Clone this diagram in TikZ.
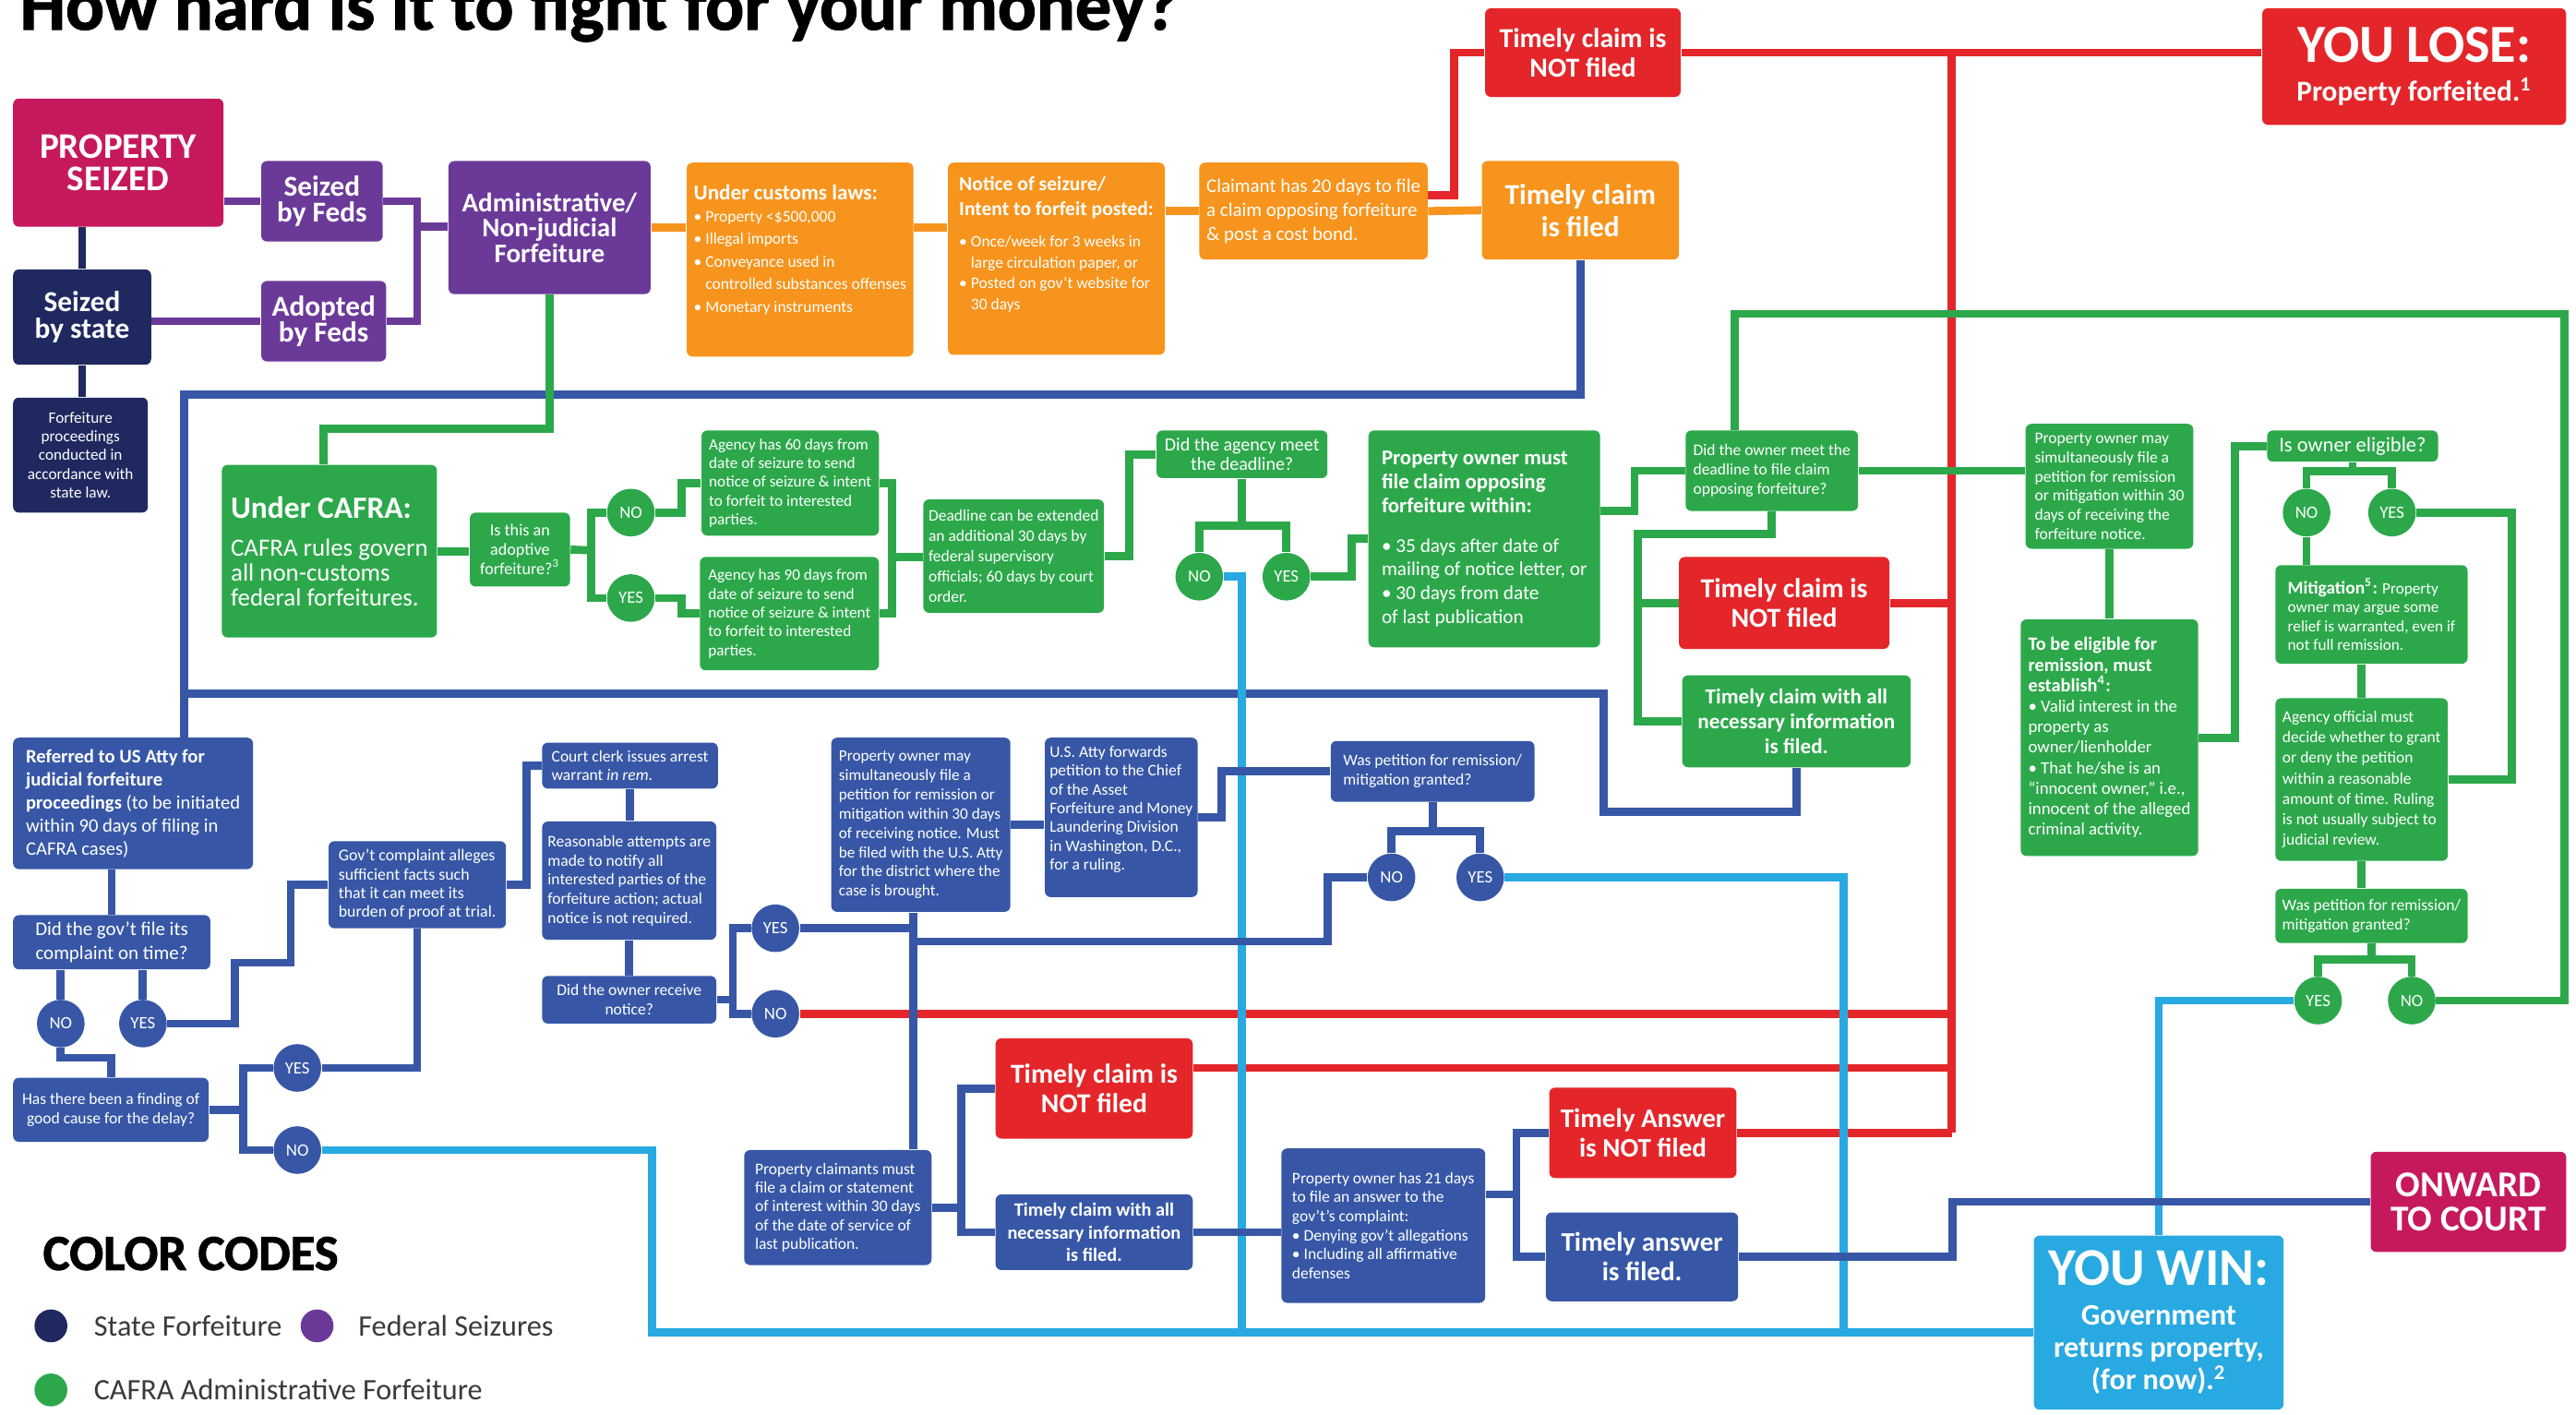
\documentclass[tikz,border=0pt]{standalone}
\usepackage{fontspec}
\setmainfont{Carlito}
\usepackage{xcolor}
\usepackage{tikz}
\definecolor{seizedpink}{HTML}{C6195D}
\definecolor{statenavy}{HTML}{1F2960}
\definecolor{fedpurple}{HTML}{6B3A99}
\definecolor{customsorange}{HTML}{F7941D}
\definecolor{losered}{HTML}{E4262A}
\definecolor{cafragreen}{HTML}{2CA84B}
\definecolor{judicialblue}{HTML}{3757A6}
\definecolor{winblue}{HTML}{28A9E1}
\definecolor{keygray}{HTML}{3A3A3A}
\tikzset{
  flowbox/.style={rectangle, rounded corners=2pt, inner sep=0pt, text=white},
  wh/.style 2 args={minimum width=#1*0.02cm, minimum height=#2*0.02cm},
  navybox/.style={flowbox, fill=statenavy},
  purplebox/.style={flowbox, fill=fedpurple},
  pinkbox/.style={flowbox, fill=seizedpink},
  orangebox/.style={flowbox, fill=customsorange},
  redbox/.style={flowbox, fill=losered},
  greenbox/.style={flowbox, fill=cafragreen},
  bluebox/.style={flowbox, fill=judicialblue},
  winbox/.style={flowbox, fill=winblue},
  yn/.style={circle, inner sep=0pt, minimum size=0.58cm, text=white, font=\fontsize{6}{6}\selectfont},
  smallnote/.style={font=\fontsize{5.6}{6.6}\selectfont},
  claimhead/.style={font=\bfseries\fontsize{9.5}{10.2}\selectfont, align=center},
  fedhead/.style={font=\bfseries\fontsize{10}{9.2}\selectfont, align=center},
  heavy/.style={font=\bfseries\addfontfeatures{FakeBold=1.6}\fontsize{#1}{#1}\selectfont},
  keydot/.style={circle, inner sep=0pt, minimum size=0.4cm},
  keytext/.style={anchor=west, text=keygray, font=\fontsize{10.3}{10.3}\selectfont},
  conn/.style={line width=2.8pt},
  navyline/.style={conn, draw=statenavy},
  purpleline/.style={conn, draw=fedpurple},
  orangeline/.style={conn, draw=customsorange},
  redline/.style={conn, draw=losered},
  greenline/.style={conn, draw=cafragreen},
  blueline/.style={conn, draw=judicialblue},
  winline/.style={conn, draw=winblue}
}

\begin{document}
\begin{tikzpicture}[x=0.02cm, y=-0.02cm]%
\useasboundingbox (0,0) rectangle (1568,861);%
\fill[white] (0,0) rectangle (1568,861);%
\node[anchor=base west, heavy=25] (title) at (6,18) {How hard is it to fight for your money?};%
% seizure
\node[pinkbox, wh={128}{78}, font=\bfseries\fontsize{12.5}{11.2}\selectfont, align=center] (seized) at (72,99) {PROPERTY\\SEIZED};%
\node[purplebox, wh={74}{49}, fedhead] (fedseized) at (196,122.5) {Seized\\by Feds};%
\node[navybox, wh={84}{58}, fedhead] (stateseized) at (50,193) {Seized\\by state};%
\node[purplebox, wh={76}{49}, fedhead] (adopted) at (197,195.5) {Adopted\\by Feds};%
\node[purplebox, wh={123}{81}, font=\bfseries\fontsize{9.3}{8.8}\selectfont, align=center] (admin) at (334.5,138.5) {Administrative/\\Non-judicial\\Forfeiture};%
\node[navybox, wh={82}{70}, font=\fontsize{5.5}{6.5}\selectfont, align=center] (stateproc) at (49,277) {Forfeiture\\proceedings\\conducted in\\accordance with\\state law.};%
% customs
\node[orangebox, wh={138}{118}, font=\fontsize{5.6}{7.8}\selectfont, align=left] (customs) at (487,158) {{\bfseries\fontsize{7.4}{8}\selectfont Under customs laws:}\\• Property <\$500,000\\• Illegal imports\\• Conveyance used in\\\phantom{• }controlled substances offenses\\• Monetary instruments\\[0pt]\mbox{}};%
\node[orangebox, wh={132}{117}, font=\fontsize{5.6}{7.2}\selectfont, align=left] (notice) at (643,157.5) {{\bfseries\fontsize{6.9}{8.6}\selectfont Notice of seizure/}\\[1.4pt]{\bfseries\fontsize{6.9}{8.6}\selectfont Intent to forfeit posted:}\\[3.8pt]• Once/week for 3 weeks in\\\phantom{• }large circulation paper, or\\• Posted on gov't website for\\\phantom{• }30 days\\[3.6pt]\mbox{}};%
\node[orangebox, wh={139}{59}, font=\fontsize{6.7}{8.4}\selectfont, align=left] (claimant) at (799.5,128.5) {Claimant has 20 days to file\\a claim opposing forfeiture\\\& post a cost bond.};%
\node[orangebox, wh={120}{60}, font=\bfseries\fontsize{10}{11.2}\selectfont, align=center] (filedtop) at (962,128) {Timely claim\\is filed};%
\node[redbox, wh={119}{54}, claimhead] (notfiledtop) at (963.5,32) {Timely claim is\\NOT filed};%
\node[redbox, wh={185}{71}, font=\bfseries\fontsize{10}{11.4}\selectfont, align=center] (lose) at (1469.5,40.5) {{\fontsize{18.6}{18.6}\selectfont YOU LOSE:}\\[2pt]Property forfeited.\textsuperscript{1}};%
% CAFRA
\node[greenbox, wh={131}{105}, font=\fontsize{8.6}{8.6}\selectfont, align=left] (cafra) at (200.5,335.5) {{\bfseries\fontsize{10.7}{12}\selectfont Under CAFRA:}\\[4.4pt]CAFRA rules govern\\all non-customs\\federal forfeitures.};%
\node[greenbox, wh={61}{45}, font=\fontsize{5.8}{6.7}\selectfont, align=center] (adoptive) at (316.5,334.5) {Is this an\\adoptive\\forfeiture?\textsuperscript{3}};%
\node[yn, fill=cafragreen] (adoptno) at (384,312) {NO};%
\node[yn, fill=cafragreen] (adoptyes) at (384,364) {YES};%
\node[greenbox, wh={108}{64}, font=\fontsize{5.5}{6.5}\selectfont, align=left] (days60) at (481,294) {Agency has 60 days from\\date of seizure to send\\notice of seizure \& intent\\to forfeit to interested\\parties.};%
\node[greenbox, wh={109}{69}, font=\fontsize{5.5}{6.5}\selectfont, align=left] (days90) at (480.5,373.5) {Agency has 90 days from\\date of seizure to send\\notice of seizure \& intent\\to forfeit to interested\\parties.};%
\node[greenbox, wh={110}{69}, font=\fontsize{5.6}{7}\selectfont, align=left] (extend) at (617,338.5) {Deadline can be extended\\an additional 30 days by\\federal supervisory\\officials; 60 days by court\\order.};%
\node[greenbox, wh={104}{29}, font=\fontsize{6.4}{7}\selectfont, align=center] (agencymet) at (756,276.5) {Did the agency meet\\the deadline?};%
\node[yn, fill=cafragreen] (agencyno) at (730,351) {NO};%
\node[yn, fill=cafragreen] (agencyyes) at (783,351) {YES};%
\node[greenbox, wh={141}{132}, font=\fontsize{6.8}{8.2}\selectfont, align=left] (mustfile) at (903.5,328) {{\bfseries\fontsize{7.3}{8.6}\selectfont Property owner must}\\{\bfseries\fontsize{7.3}{8.6}\selectfont file claim opposing}\\{\bfseries\fontsize{7.3}{8.6}\selectfont forfeiture within:}\\[5.5pt]• 35 days after date of\\mailing of notice letter, or\\• 30 days from date\\of last publication};%
\node[greenbox, wh={105}{49}, smallnote, align=left] (ownermet) at (1078.5,286.5) {Did the owner meet the\\deadline to file claim\\opposing forfeiture?};%
\node[redbox, wh={128}{56}, claimhead] (notfiledmid) at (1086,367) {Timely claim is\\NOT filed};%
\node[greenbox, wh={139}{56}, font=\bfseries\fontsize{7.4}{8.6}\selectfont, align=center] (allinfomid) at (1093.5,439) {Timely claim with all\\necessary information\\is filed.};%
\node[greenbox, wh={102}{76}, smallnote, align=left] (petitiongreen) at (1284,296) {Property owner may\\simultaneously file a\\petition for remission\\or mitigation within 30\\days of receiving the\\forfeiture notice.};%
\node[greenbox, wh={108}{144}, font=\fontsize{6}{7.1}\selectfont, align=left] (eligible) at (1284,449) {{\bfseries\fontsize{6.5}{7.7}\selectfont To be eligible for}\\{\bfseries\fontsize{6.5}{7.7}\selectfont remission, must}\\{\bfseries\fontsize{6.5}{7.7}\selectfont establish\textsuperscript{4}:}\\• Valid interest in the\\property as\\owner/lienholder\\• That he/she is an\\``innocent owner,'' i.e.,\\innocent of the alleged\\criminal activity.};%
\node[greenbox, wh={104}{19}, font=\fontsize{7.2}{7.2}\selectfont, align=center] (iseligible) at (1432,271.5) {Is owner eligible?};%
\node[yn, fill=cafragreen] (eligno) at (1404,312) {NO};%
\node[yn, fill=cafragreen] (eligyes) at (1456,312) {YES};%
\node[greenbox, wh={117}{60}, font=\fontsize{5.5}{6.6}\selectfont, align=left] (mitigation) at (1443.5,374) {{\bfseries\fontsize{6.2}{6.6}\selectfont Mitigation\textsuperscript{5}:} Property\\owner may argue some\\relief is warranted, even if\\not full remission.};%
\node[greenbox, wh={105}{99}, font=\fontsize{5.6}{7.1}\selectfont, align=left] (official) at (1437.5,474.5) {Agency official must\\decide whether to grant\\or deny the petition\\within a reasonable\\amount of time. Ruling\\is not usually subject to\\judicial review.};%
\node[greenbox, wh={117}{33}, smallnote, align=left] (grantedgreen) at (1443.5,557.5) {Was petition for remission/\\mitigation granted?};%
\node[yn, fill=cafragreen] (grantyes) at (1411,609) {YES};%
\node[yn, fill=cafragreen] (grantno) at (1468,609) {NO};%
\node[winbox, wh={152}{106}, font=\bfseries\fontsize{10.3}{11.2}\selectfont, align=center] (win) at (1314,805) {{\fontsize{18.4}{18.4}\selectfont YOU WIN:}\\[2.5pt]Government\\returns property,\\(for now).\textsuperscript{2}};%
\node[pinkbox, wh={119}{61}, font=\bfseries\fontsize{12.6}{12}\selectfont, align=center] (court) at (1502.5,731.5) {ONWARD\\TO COURT};%
% judicial
\node[bluebox, wh={146}{80}, font=\fontsize{6.6}{8}\selectfont, align=left] (referred) at (81,489) {\textbf{Referred to US Atty for}\\\textbf{judicial forfeiture}\\\textbf{proceedings} (to be initiated\\within 90 days of filing in\\CAFRA cases)};%
\node[bluebox, wh={120}{33}, font=\fontsize{6.7}{8.1}\selectfont, align=center] (govfiled) at (68,573.5) {Did the gov't file its\\complaint on time?};%
\node[yn, fill=judicialblue] (govno) at (37,623) {NO};%
\node[yn, fill=judicialblue] (govyes) at (87,623) {YES};%
\node[bluebox, wh={119}{39}, font=\fontsize{5.6}{6.5}\selectfont, align=center] (goodcause) at (67.5,675.5) {Has there been a finding of\\good cause for the delay?};%
\node[yn, fill=judicialblue] (causeyes) at (181,650) {YES};%
\node[yn, fill=judicialblue] (causeno) at (181,700) {NO};%
\node[bluebox, wh={108}{53}, font=\fontsize{5.7}{6.5}\selectfont, align=left] (complaint) at (254,538.5) {Gov't complaint alleges\\sufficient facts such\\that it can meet its\\burden of proof at trial.};%
\node[bluebox, wh={107}{28}, smallnote, align=left] (clerk) at (383.5,466) {Court clerk issues arrest\\warrant \textit{in rem}.};%
\node[bluebox, wh={106}{72}, smallnote, align=left] (attempts) at (383,536) {Reasonable attempts are\\made to notify all\\interested parties of the\\forfeiture action; actual\\notice is not required.};%
\node[bluebox, wh={106}{29}, smallnote, align=center] (receive) at (383,608.5) {Did the owner receive\\notice?};%
\node[yn, fill=judicialblue] (receiveyes) at (472,565) {YES};%
\node[yn, fill=judicialblue] (receiveno) at (472,617) {NO};%
\node[bluebox, wh={109}{106}, font=\fontsize{5.5}{6.7}\selectfont, align=left] (petitionblue) at (560.5,502) {Property owner may\\simultaneously file a\\petition for remission or\\mitigation within 30 days\\of receiving notice. Must\\be filed with the U.S. Atty\\for the district where the\\case is brought.};%
\node[bluebox, wh={93}{97}, font=\fontsize{5.6}{6.5}\selectfont, align=left] (forwards) at (682.5,497.5) {U.S. Atty forwards\\petition to the Chief\\of the Asset\\Forfeiture and Money\\Laundering Division\\in Washington, D.C.,\\for a ruling.\\[0pt]\mbox{}};%
\node[bluebox, wh={124}{37}, smallnote, align=left] (grantedblue) at (872,469.5) {Was petition for remission/\\mitigation granted?};%
\node[yn, fill=judicialblue] (blueno) at (847,534) {NO};%
\node[yn, fill=judicialblue] (blueyes) at (901,534) {YES};%
\node[bluebox, wh={114}{70}, font=\fontsize{5.6}{6.5}\selectfont, align=left] (claimants) at (510,735) {Property claimants must\\file a claim or statement\\of interest within 30 days\\of the date of service of\\last publication.};%
\node[redbox, wh={120}{61}, claimhead] (notfiledlow) at (666,662.5) {Timely claim is\\NOT filed};%
\node[bluebox, wh={120}{46}, font=\bfseries\fontsize{6.5}{7.8}\selectfont, align=center] (allinfolow) at (666,750) {Timely claim with all\\necessary information\\is filed.};%
\node[bluebox, wh={124}{94}, smallnote, align=left] (answer21) at (842,746) {Property owner has 21 days\\to file an answer to the\\gov't's complaint:\\• Denying gov't allegations\\• Including all affirmative\\defenses};%
\node[redbox, wh={114}{55}, font=\bfseries\fontsize{9.3}{10.2}\selectfont, align=center] (answernot) at (1000,689.5) {Timely Answer\\is NOT filed};%
\node[bluebox, wh={117}{54}, font=\bfseries\fontsize{9.3}{10.2}\selectfont, align=center] (answerfiled) at (999.5,765) {Timely answer\\is filed.};%
% key
\node[anchor=west, heavy=17.5] (colorcodes) at (20,763) {COLOR CODES};%
\node[keydot, fill=statenavy] (keystate) at (31,807) {};%
\node[keytext] (keystatetext) at (51,807) {State Forfeiture};%
\node[keydot, fill=fedpurple] (keyfed) at (193,807) {};%
\node[keytext] (keyfedtext) at (212,807) {Federal Seizures};%
\node[keydot, fill=cafragreen] (keycafra) at (31,846) {};%
\node[keytext] (keycafratext) at (51,846) {CAFRA Administrative Forfeiture};%
% junctions
\coordinate (admjoin) at (254,138);%
\coordinate (redtap) at (885,119);%
\coordinate (redtop) at (1188,32);%
\coordinate (redlow) at (1188,650);%
\coordinate (bluecorner) at (112,240);%
\coordinate (loopa) at (976,494);%
\coordinate (loopb) at (112,422);%
\coordinate (cafrabend) at (197,261);%
\coordinate (adoptfork) at (360,335);%
\coordinate (extfork) at (543,339);%
\coordinate (agencyfork) at (756,320);%
\coordinate (mustjog) at (995,311);%
\coordinate (ownerfork) at (997,325);%
\coordinate (loopne) at (1561,191);%
\coordinate (loopnw) at (1056,191);%
\coordinate (eligfork) at (1430,287);%
\coordinate (grantfork) at (1440,584);%
\coordinate (stepa) at (143,586);%
\coordinate (stepb) at (177,586);%
\coordinate (causefork) at (148,675.5);%
\coordinate (wincorner) at (397,811);%
\coordinate (lbmid) at (756,811);%
\coordinate (lbright) at (1122,811);%
\coordinate (recfork) at (446,608.5);%
\coordinate (bluespine) at (556,565);%
\coordinate (nojog) at (808,573);%
\coordinate (bluefork) at (872,506);%
\coordinate (claimfork) at (585,735);%
\coordinate (ansfork) at (923,727);%
% connectors
\draw[navyline] (stateseized.north) -- (stateseized.north |- seized.south);%
\draw[navyline] (stateseized.south) -- (stateseized.south |- stateproc.north);%
\draw[purpleline] (seized.east |- fedseized.west) -- (fedseized.west);%
\draw[purpleline] (stateseized.east |- adopted.west) -- (adopted.west);%
\draw[purpleline] (fedseized.east) -| (admjoin) |- (adopted.east);%
\draw[purpleline] (admjoin) -- (admjoin -| admin.west);%
\draw[orangeline] (admin.east) -- (admin.east -| customs.west);%
\draw[orangeline] (customs.east |- admin.east) -- (notice.west |- admin.east);%
\draw[orangeline] (claimant.west -| notice.east) -- (claimant.west);%
\draw[orangeline] (claimant.east) -- (filedtop.west);%
\draw[redline] (redtap -| claimant.east) -- (redtap) |- (notfiledtop.west);%
\draw[redline] (notfiledtop.east) -- (notfiledtop.east -| lose.west);%
\draw[redline] (redtop) -- (redtop |- answernot.east);%
\draw[redline] (notfiledmid.east) -- (notfiledmid.east -| redtop);%
\draw[redline] (receiveno.east) -- (receiveno.east -| redtop);%
\draw[redline] (redlow -| notfiledlow.east) -- (redlow);%
\draw[redline] (answernot.east) -- (answernot.east -| redtop);%
\draw[blueline] (filedtop.south) |- (bluecorner) -- (bluecorner |- referred.north);%
\draw[blueline] (allinfomid.south) |- (loopa) |- (loopb);%
\draw[greenline] (admin.south) |- (cafrabend) -- (cafrabend |- cafra.north);%
\draw[greenline] (cafra.east) -- (cafra.east -| adoptive.west);%
\draw[greenline] (adoptive.east) -- (adoptfork);%
\draw[greenline] (adoptno.west) -| (adoptfork) |- (adoptyes.west);%
\draw[greenline] (adoptno.east) -- ++(16,0) |- (days60.west);%
\draw[greenline] (adoptyes.east) -- ++(16,0) |- (days90.west);%
\draw[greenline] (days60.east) -| (extfork) |- (days90.east);%
\draw[greenline] (extfork) -- (extfork -| extend.west);%
\draw[greenline] (extend.east) -- ++(15,0) |- (agencymet.west);%
\draw[greenline] (agencymet.south) -- (agencyfork);%
\draw[greenline] (agencyno.north) |- (agencyfork) -| (agencyyes.north);%
\draw[greenline] (agencyyes.east) -- ++(25,0) |- (mustfile.west);%
\draw[greenline] (mustfile.east |- mustjog) -- (mustjog) |- (ownermet.west);%
\draw[greenline] (ownermet.east) -- (ownermet.east -| petitiongreen.west);%
\draw[greenline] (ownermet.south) |- (ownerfork) |- (allinfomid.west);%
\draw[greenline] (notfiledmid.west) -- (notfiledmid.west -| ownerfork);%
\draw[greenline] (grantno.east) -| (loopne) -- (loopnw) -- (loopnw |- ownermet.north);%
\draw[greenline] (petitiongreen.south) -- (eligible.north);%
\draw[greenline] (eligible.east) -- ++(22,0) |- (iseligible.west);%
\draw[greenline] (iseligible.south) -- (iseligible.south |- eligfork);%
\draw[greenline] (eligno.north) |- (eligfork) -| (eligyes.north);%
\draw[greenline] (eligno.south) -- (eligno.south |- mitigation.north);%
\draw[greenline] (eligyes.east) -- ++(58,0) |- (official.east);%
\draw[greenline] (official.north |- mitigation.south) -- (official.north);%
\draw[greenline] (official.south) -- (official.south |- grantedgreen.north);%
\draw[greenline] (grantedgreen.south) -- (grantedgreen.south |- grantfork);%
\draw[greenline] (grantyes.north) |- (grantfork) -| (grantno.north);%
\draw[winline] (grantyes.west) -| (win.north);%
\draw[blueline] (govfiled.north) -- (govfiled.north |- referred.south);%
\draw[blueline] (govno.north |- govfiled.south) -- (govno.north);%
\draw[blueline] (govyes.north |- govfiled.south) -- (govyes.north);%
\draw[blueline] (govno.south) -- ++(0,6) -| (goodcause.north);%
\draw[blueline] (govyes.east) -| (stepa) -- (stepb) |- (complaint.west);%
\draw[blueline] (goodcause.east) -- (causefork);%
\draw[blueline] (causeyes.west) -| (causefork) |- (causeno.west);%
\draw[blueline] (causeyes.east) -| (complaint.south);%
\draw[winline] (causeno.east) -| (wincorner) -- (wincorner -| win.west);%
\draw[winline] (agencyno.east) -| (lbmid);%
\draw[winline] (blueyes.east) -| (lbright);%
\draw[blueline] (complaint.east) -- ++(12,0) |- (clerk.west);%
\draw[blueline] (clerk.south) -- (clerk.south |- attempts.north);%
\draw[blueline] (attempts.south) -- (attempts.south |- receive.north);%
\draw[blueline] (receive.east) -- (recfork);%
\draw[blueline] (receiveyes.west) -| (recfork) |- (receiveno.west);%
\draw[blueline] (receiveyes.east) -- (bluespine);%
\draw[blueline] (bluespine |- petitionblue.south) -- (bluespine |- claimants.north);%
\draw[blueline] (blueno.west) -| (nojog) -- (nojog -| bluespine);%
\draw[blueline] (petitionblue.east) -- (petitionblue.east -| forwards.west);%
\draw[blueline] (forwards.east) -- ++(14,0) |- (grantedblue.west);%
\draw[blueline] (grantedblue.south) -- (bluefork);%
\draw[blueline] (blueno.north) |- (bluefork) -| (blueyes.north);%
\draw[blueline] (claimants.east) -- (claimfork);%
\draw[blueline] (notfiledlow.west) -| (claimfork) |- (allinfolow.west);%
\draw[blueline] (allinfolow.east) -- (allinfolow.east -| answer21.west);%
\draw[blueline] (ansfork -| answer21.east) -- (ansfork);%
\draw[blueline] (answernot.west) -| (ansfork) |- (answerfiled.west);%
\draw[blueline] (answerfiled.east) -- ++(130,0) |- (court.west);%
\end{tikzpicture}
\end{document}
